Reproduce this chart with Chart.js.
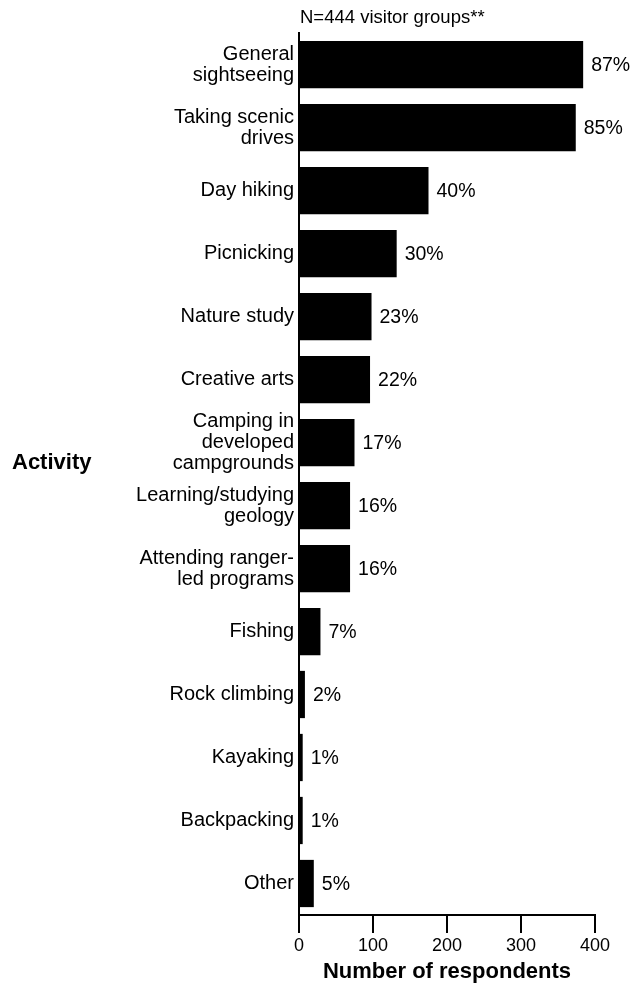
<!DOCTYPE html>
<html>
<head>
<meta charset="utf-8">
<script src="https://cdn.jsdelivr.net/npm/chart.js@4/dist/chart.umd.min.js"></script>
<style>
  html, body { margin: 0; padding: 0; background: #fff; }
  #wrap { width: 638px; height: 990px; position: relative; }
</style>
</head>
<body>
<div id="wrap"><canvas id="activityChart"></canvas></div>
<script>
const activities = [
    ['General', 'sightseeing'],
    ['Taking scenic', 'drives'],
    'Day hiking',
    'Picnicking',
    'Nature study',
    'Creative arts',
    ['Camping in', 'developed', 'campgrounds'],
    ['Learning/studying', 'geology'],
    ['Attending ranger-', 'led programs'],
    'Fishing',
    'Rock climbing',
    'Kayaking',
    'Backpacking',
    'Other'
];
const respondents = [384, 374, 175, 132, 98, 96, 75, 69, 69, 29, 8, 5, 5, 20];
const percents = [87, 85, 40, 30, 23, 22, 17, 16, 16, 7, 2, 1, 1, 5];
const xTicks = [0, 100, 200, 300, 400];

const FONT = "'Liberation Sans', Arial, sans-serif";

// draws the N= note, the "Activity" label and the % next to each bar
const textPlugin = {
    id: 'textPlugin',
    afterDatasetsDraw(chart) {
        const ctx = chart.ctx;
        ctx.save();
        ctx.fillStyle = '#000';
        ctx.textBaseline = 'middle';
        ctx.textAlign = 'left';

        ctx.font = '18.5px ' + FONT;
        ctx.fillText('N=444 visitor groups**', chart.chartArea.left + 1, 18);

        ctx.font = '19.5px ' + FONT;
        const meta = chart.getDatasetMeta(0);
        meta.data.forEach((bar, i) => {
            ctx.fillText(percents[i] + '%', bar.x + 8, bar.y + 1);
        });

        ctx.font = 'bold 22px ' + FONT;
        ctx.fillText('Activity', 12, 463);
        ctx.restore();
    }
};

const ctx = document.getElementById('activityChart').getContext('2d');
new Chart(ctx, {
    type: 'bar',
    data: {
        labels: activities,
        datasets: [{
            data: respondents,
            backgroundColor: '#000',
            borderWidth: 0,
            categoryPercentage: 1,
            barPercentage: 0.75
        }]
    },
    options: {
        indexAxis: 'y',
        responsive: true,
        maintainAspectRatio: false,
        animation: false,
        layout: { padding: { top: 33, right: 43, left: 0, bottom: 0 } },
        plugins: {
            legend: { display: false },
            tooltip: { enabled: false }
        },
        scales: {
            x: {
                min: 0,
                max: 400,
                afterBuildTicks: scale => { scale.ticks = xTicks.map(v => ({ value: v })); },
                afterFit: scale => { scale.height = 75; },
                ticks: { color: '#000', font: { family: FONT, size: 18 }, padding: 2, maxRotation: 0 },
                grid: { display: true, drawOnChartArea: false, drawTicks: true, tickLength: 18, color: '#000', lineWidth: 2 },
                border: { display: true, color: '#000', width: 2 },
                title: {
                    display: true,
                    text: 'Number of respondents',
                    color: '#000',
                    font: { family: FONT, size: 22, weight: 'bold' },
                    padding: { top: 4, bottom: 5 }
                }
            },
            y: {
                afterFit: scale => { scale.width = 299; },
                ticks: { color: '#000', font: { family: FONT, size: 20, lineHeight: 1.05 }, padding: 5, autoSkip: false },
                grid: { display: false, drawTicks: false },
                border: { display: true, color: '#000', width: 2 }
            }
        }
    },
    plugins: [textPlugin]
});
</script>
</body>
</html>
